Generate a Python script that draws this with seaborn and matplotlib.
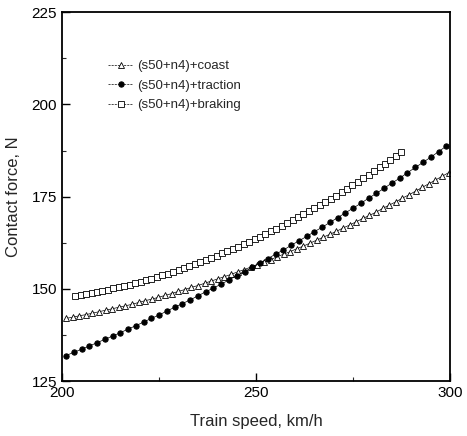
import numpy as np
import pandas as pd
import matplotlib
matplotlib.use("Agg")
import matplotlib.pyplot as plt
from matplotlib.ticker import MultipleLocator
import seaborn as sns

# speeds (km/h) and contact force (N)
speed_coast = [201.0, 202.7, 204.4, 206.1, 207.8, 209.5, 211.2, 212.9, 214.6, 216.3,
               218.0, 219.7, 221.4, 223.1, 224.8, 226.5, 228.2, 229.9, 231.6, 233.3,
               235.0, 236.7, 238.4, 240.1, 241.8, 243.5, 245.2, 246.9, 248.6, 250.3,
               252.0, 253.7, 255.4, 257.1, 258.8, 260.5, 262.2, 263.9, 265.6, 267.3,
               269.0, 270.7, 272.4, 274.1, 275.8, 277.5, 279.2, 280.9, 282.6, 284.3,
               286.0, 287.7, 289.4, 291.1, 292.8, 294.5, 296.2, 297.9, 299.6]
force_coast = [142.0, 142.3, 142.7, 143.0, 143.4, 143.8, 144.2, 144.6, 145.0, 145.4,
               145.8, 146.3, 146.8, 147.2, 147.7, 148.2, 148.7, 149.3, 149.8, 150.4,
               150.9, 151.5, 152.1, 152.7, 153.3, 153.9, 154.6, 155.2, 155.9, 156.6,
               157.2, 157.9, 158.7, 159.4, 160.1, 160.9, 161.6, 162.4, 163.2, 164.0,
               164.8, 165.6, 166.5, 167.3, 168.2, 169.1, 169.9, 170.8, 171.8, 172.7,
               173.6, 174.6, 175.5, 176.5, 177.5, 178.5, 179.5, 180.5, 181.5]

speed_traction = [201, 203, 205, 207, 209, 211, 213, 215, 217, 219,
                  221, 223, 225, 227, 229, 231, 233, 235, 237, 239,
                  241, 243, 245, 247, 249, 251, 253, 255, 257, 259,
                  261, 263, 265, 267, 269, 271, 273, 275, 277, 279,
                  281, 283, 285, 287, 289, 291, 293, 295, 297, 299]
force_traction = [131.9, 132.8, 133.6, 134.5, 135.4, 136.3, 137.2, 138.1, 139.1, 140.0,
                  141.0, 142.0, 142.9, 144.0, 145.0, 146.0, 147.0, 148.1, 149.2, 150.2,
                  151.3, 152.4, 153.6, 154.7, 155.8, 157.0, 158.2, 159.4, 160.5, 161.8,
                  163.0, 164.2, 165.5, 166.7, 168.0, 169.3, 170.6, 171.9, 173.2, 174.6,
                  175.9, 177.3, 178.7, 180.0, 181.5, 182.9, 184.3, 185.7, 187.2, 188.7]

speed_braking = [203.4, 204.8, 206.2, 207.6, 209.0, 210.4, 211.8, 213.2, 214.6, 216.0,
                 217.4, 218.8, 220.2, 221.6, 223.0, 224.4, 225.8, 227.2, 228.6, 230.0,
                 231.4, 232.8, 234.2, 235.6, 237.0, 238.4, 239.8, 241.2, 242.6, 244.0,
                 245.4, 246.8, 248.2, 249.6, 251.0, 252.4, 253.8, 255.2, 256.6, 258.0,
                 259.4, 260.8, 262.2, 263.6, 265.0, 266.4, 267.8, 269.2, 270.6, 272.0,
                 273.4, 274.8, 276.2, 277.6, 279.0, 280.4, 281.8, 283.2, 284.6, 286.0,
                 287.4]
force_braking = [148.0, 148.3, 148.5, 148.8, 149.1, 149.4, 149.7, 150.1, 150.4, 150.8,
                 151.1, 151.5, 151.9, 152.3, 152.8, 153.2, 153.7, 154.1, 154.6, 155.1,
                 155.6, 156.1, 156.7, 157.2, 157.8, 158.4, 158.9, 159.6, 160.2, 160.8,
                 161.4, 162.1, 162.8, 163.5, 164.1, 164.9, 165.6, 166.3, 167.1, 167.8,
                 168.6, 169.4, 170.2, 171.0, 171.9, 172.7, 173.6, 174.4, 175.3, 176.2,
                 177.1, 178.1, 179.0, 180.0, 180.9, 181.9, 182.9, 183.9, 184.9, 186.0,
                 187.0]

labels = ["(s50+n4)+coast", "(s50+n4)+traction", "(s50+n4)+braking"]

sns.set_style("ticks")
plt.rcParams['font.family'] = ['Liberation Sans Narrow', 'Liberation Sans', 'DejaVu Sans']

fig = plt.figure(figsize=(4.67, 4.36), dpi=100)
ax = fig.add_axes([0.133, 0.126, 0.831, 0.846])

sns.lineplot(x=speed_coast, y=force_coast, ax=ax, color="black", lw=0.5,
             marker="^", markersize=4.2, markerfacecolor="white", markeredgecolor="black",
             markeredgewidth=0.6, label=labels[0])
sns.lineplot(x=speed_traction, y=force_traction, ax=ax, color="black", lw=0.5,
             marker="o", markersize=3.8, markerfacecolor="black", markeredgecolor="black",
             label=labels[1])
sns.lineplot(x=speed_braking, y=force_braking, ax=ax, color="black", lw=0.5,
             marker="s", markersize=4.3, markerfacecolor="white", markeredgecolor="black",
             markeredgewidth=0.6, label=labels[2])

ax.set_xlim(200, 300)
ax.set_ylim(125, 225)
ax.xaxis.set_major_locator(MultipleLocator(50))
ax.xaxis.set_minor_locator(MultipleLocator(25))
ax.yaxis.set_major_locator(MultipleLocator(25))
ax.yaxis.set_minor_locator(MultipleLocator(12.5))
ax.tick_params(which="major", direction="in", length=6, width=1, labelsize=11, colors="black")
ax.tick_params(which="minor", direction="in", length=3, width=0.8)
for s in ax.spines.values():
    s.set_linewidth(1.3)
    s.set_color("black")

ax.set_xlabel("Train speed, km/h", fontsize=12, labelpad=10)
ax.set_ylabel("Contact force, N", fontsize=12, labelpad=8)

leg = ax.legend(loc="upper left", bbox_to_anchor=(0.105, 0.885), frameon=False, fontsize=9.5,
                handlelength=1.9, handletextpad=0.3, labelspacing=0.55, borderaxespad=0)
for h in leg.get_lines():
    h.set_linestyle((0, (3, 1.5)))

fig.savefig("out.png", dpi=100)
